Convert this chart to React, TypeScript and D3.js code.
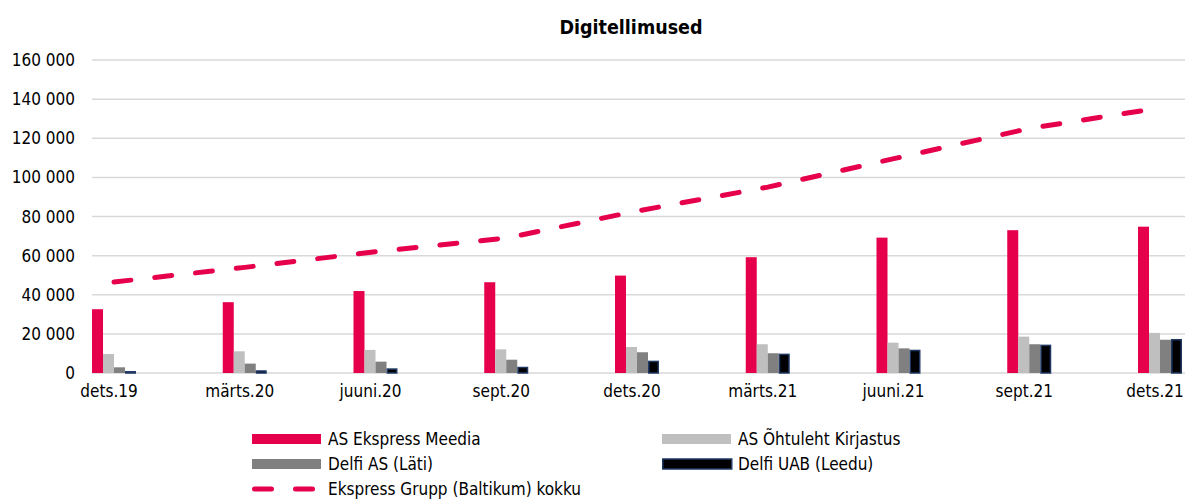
import { useMemo } from "react";
import * as d3 from "d3";

const WIDTH = 1190;
const HEIGHT = 500;
const FONT = "'DejaVu Sans Condensed', 'DejaVu Sans', sans-serif";

const categories = ["dets.19", "märts.20", "juuni.20", "sept.20", "dets.20", "märts.21", "juuni.21", "sept.21", "dets.21"];
const ekspressMeedia = [32600, 36200, 41900, 46400, 49800, 59200, 69200, 73000, 74800];
const ohtuleht = [9700, 11100, 11800, 12100, 13300, 14700, 15500, 18600, 20500];
const delfiLati = [2900, 4800, 5800, 6800, 10600, 10100, 12600, 14700, 17000];
const delfiLeedu = [1000, 1400, 2400, 3200, 6300, 9900, 11900, 14500, 17400];
const grupiKokku = [46500, 54000, 62000, 69000, 82800, 95000, 110100, 125000, 135500];
const yTicks = [0, 20000, 40000, 60000, 80000, 100000, 120000, 140000, 160000];

const barSeries = [
  { name: "AS Ekspress Meedia", values: ekspressMeedia, fill: "#E6004C", stroke: "none" },
  { name: "AS Õhtuleht Kirjastus", values: ohtuleht, fill: "#BFBFBF", stroke: "none" },
  { name: "Delfi AS (Läti)", values: delfiLati, fill: "#808080", stroke: "none" },
  { name: "Delfi UAB (Leedu)", values: delfiLeedu, fill: "#000000", stroke: "#1F3864" },
];
const lineName = "Ekspress Grupp (Baltikum) kokku";

const PLOT = { left: 92, right: 1185, top: 60, bottom: 373 };
const BAR_W = 11;

const fmt = (v: number) => d3.format(",")(v).replace(/,/g, " ");

export default function App() {
  const x = useMemo(() => d3.scalePoint<string>().domain(categories).range([114, 1160]), []);
  const y = useMemo(() => d3.scaleLinear().domain([0, 160000]).range([PLOT.bottom, PLOT.top]), []);

  const line = d3
    .line<number>()
    .x((_, i) => x(categories[i]) as number)
    .y((d) => y(d));

  const legendItems = [
    { col: 0, row: 0, s: barSeries[0] },
    { col: 1, row: 0, s: barSeries[1] },
    { col: 0, row: 1, s: barSeries[2] },
    { col: 1, row: 1, s: barSeries[3] },
  ];
  const legendX = [252, 662];
  const legendY = [439, 464, 489];

  return (
    <svg width={WIDTH} height={HEIGHT} style={{ position: "absolute", left: 0, top: 0, background: "#fff" }} fontFamily={FONT}>
      <text x={631} y={34} textAnchor="middle" fontWeight="bold" fontSize={19.5} fill="#000">
        Digitellimused
      </text>

      {yTicks.map((t) => (
        <g key={t}>
          <line x1={PLOT.left} x2={PLOT.right} y1={y(t)} y2={y(t)} stroke="#D9D9D9" strokeWidth={1.5} />
          <text x={75} y={y(t)} dy="0.36em" textAnchor="end" fontSize={17} fill="#000">
            {fmt(t)}
          </text>
        </g>
      ))}

      {categories.map((c, i) => (
        <g key={c}>
          {barSeries.map((s, j) => {
            const bx = (x(c) as number) - 22 + j * BAR_W;
            const by = y(s.values[i]);
            const inset = s.stroke === "none" ? 0 : 0.75;
            return (
              <rect
                key={s.name}
                x={bx + inset}
                y={by + inset}
                width={BAR_W - inset * 2}
                height={Math.max(0, y(0) - by - inset)}
                fill={s.fill}
                stroke={s.stroke}
                strokeWidth={s.stroke === "none" ? 0 : 1.5}
              />
            );
          })}
          <text x={(x(c) as number) - 5} y={397} textAnchor="middle" fontSize={17} fill="#000">
            {c}
          </text>
        </g>
      ))}

      <path
        d={line(grupiKokku) ?? ""}
        fill="none"
        stroke="#E6004C"
        strokeWidth={5}
        strokeDasharray="17 24"
        strokeLinecap="round"
      />

      {legendItems.map(({ col, row, s }) => (
        <g key={s.name} transform={`translate(${legendX[col]},${legendY[row]})`}>
          <rect
            x={s.stroke === "none" ? 0 : 0.75}
            y={-5}
            width={69}
            height={10}
            fill={s.fill}
            stroke={s.stroke}
            strokeWidth={s.stroke === "none" ? 0 : 1.5}
          />
          <text x={76} y={0} dy="0.36em" fontSize={17} fill="#000">
            {s.name}
          </text>
        </g>
      ))}
      <g transform={`translate(${legendX[0]},${legendY[2]})`}>
        <line x1={2.5} x2={66.5} y1={0} y2={0} stroke="#E6004C" strokeWidth={5} strokeDasharray="17 24" strokeLinecap="round" />
        <text x={76} y={0} dy="0.36em" fontSize={17} fill="#000">
          {lineName}
        </text>
      </g>
    </svg>
  );
}
